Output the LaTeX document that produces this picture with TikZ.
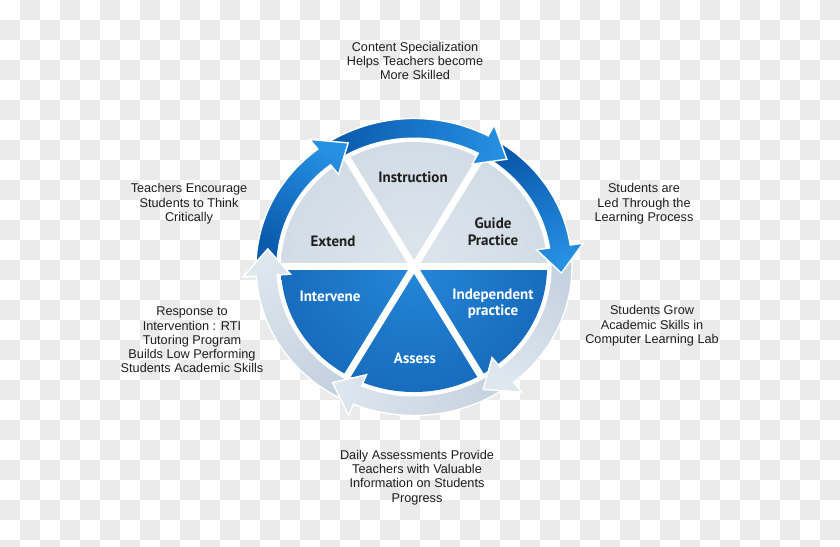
\documentclass[tikz,border=0pt]{standalone}
\usepackage{fontspec}
\setmainfont{Liberation Sans}
\newfontfamily\labfont{PT Sans}
\definecolor{chk}{HTML}{EBEBEB}
\definecolor{txt}{HTML}{1E1E1E}
\definecolor{lgC}{HTML}{DDE5EC}
\definecolor{lgO}{HTML}{C7D3DF}
\definecolor{blC}{HTML}{2586D8}
\definecolor{blO}{HTML}{0A52A2}
\definecolor{bT}{HTML}{0A5AAE}
\definecolor{bH}{HTML}{2690E2}
\definecolor{lgT}{HTML}{C5D2DF}
\definecolor{lgH}{HTML}{DEE6EE}
\newcommand\ringarrow[4]{%
  \pgfmathsetmacro\rb{#2+11}%
  \pgfmathsetmacro\rsa{(#1+#2)/2-180}%
  \shade[top color=#4, bottom color=#3, shading angle=\rsa, draw=white, line width=1.4pt, line join=miter]
    (#1:158) arc[start angle=#1, end angle=\rb, radius=158]
    -- (\rb:171) -- (#2:147.5) -- (\rb:124) -- (\rb:137)
    arc[start angle=\rb, end angle=#1, radius=137] -- cycle;}
\begin{document}
\begin{tikzpicture}[x=1pt,y=1pt,
  outer/.style={font=\fontsize{12.7}{14.3}\selectfont, text=txt, align=center},
  inner/.style={font=\labfont\bfseries\fontsize{15}{16.5}\selectfont, align=center, text=txt},
  innerw/.style={inner, text=white}]
\useasboundingbox (0,0) rectangle (840,546);
\fill[white] (0,0) rectangle (840,546);
\foreach \i in {0,...,41}{\foreach \j in {0,...,27}{%
  \pgfmathtruncatemacro\k{mod(\i+\j,2)}%
  \ifnum\k=1 \fill[chk] ({20*\i},{546-20*\j}) rectangle ++(20,-20);\fi}}
\begin{scope}[shift={(414,279)}, yscale=0.94]
  \fill[white] (0,0) circle (138);
  \begin{scope}
    \clip (0,0) -- (0:133) arc[start angle=0,end angle=180,radius=133] -- cycle;
    \shade[inner color=lgC, outer color=lgO] (0,0) circle (266);
  \end{scope}
  \begin{scope}
    \clip (0,0) -- (180:133) arc[start angle=180,end angle=360,radius=133] -- cycle;
    \shade[inner color=blC, outer color=blO] (0,0) circle (266);
  \end{scope}
  \foreach \a in {0,60,120}{\draw[white,line width=7pt] (\a:139) -- (\a+180:139);}
  \ringarrow{-118.5}{-187.5}{lgT}{lgH}
  \ringarrow{-57}{-123.5}{lgT}{lgH}
  \ringarrow{2.5}{-62}{lgT}{lgH}
  \ringarrow{56}{-2.5}{bT}{bH}
  \ringarrow{121.5}{51}{bT}{bH}
  \ringarrow{177.5}{116.5}{bT}{bH}
  \begin{scope}
    \clip (0,0) -- (160:260) -- (180:260) -- (200:260) -- cycle;
    \ringarrow{-118.5}{-187.5}{lgT}{lgH}
  \end{scope}
\end{scope}
\node[inner] (instr) at (413,369) {Instruction};
\node[inner] (guide) at (493,314) {Guide\\Practice};
\node[inner] (ext) at (333,305) {Extend};
\node[innerw] (interv) at (330,250) {Intervene};
\node[innerw] (indep) at (493,242) {Independent\\practice};
\node[innerw] (assess) at (415,188) {Assess};
\node[outer] (t1) at (415,485) {Content Specialization\\Helps Teachers become\\More Skilled};
\node[outer] (t2) at (189,342) {Teachers Encourage\\Students to Think\\Critically};
\node[outer] (t3) at (644,342) {Students are\\Led Through the\\Learning Process};
\node[outer] (t4) at (192,206) {Response to\\Intervention : RTI\\Tutoring Program\\Builds Low Performing\\Students Academic Skills};
\node[outer] (t5) at (652,220) {Students Grow\\Academic Skills in\\Computer Learning Lab};
\node[outer] (t6) at (417,68.5) {Daily Assessments Provide\\Teachers with Valuable\\Information on Students\\Progress};
\end{tikzpicture}
\end{document}
